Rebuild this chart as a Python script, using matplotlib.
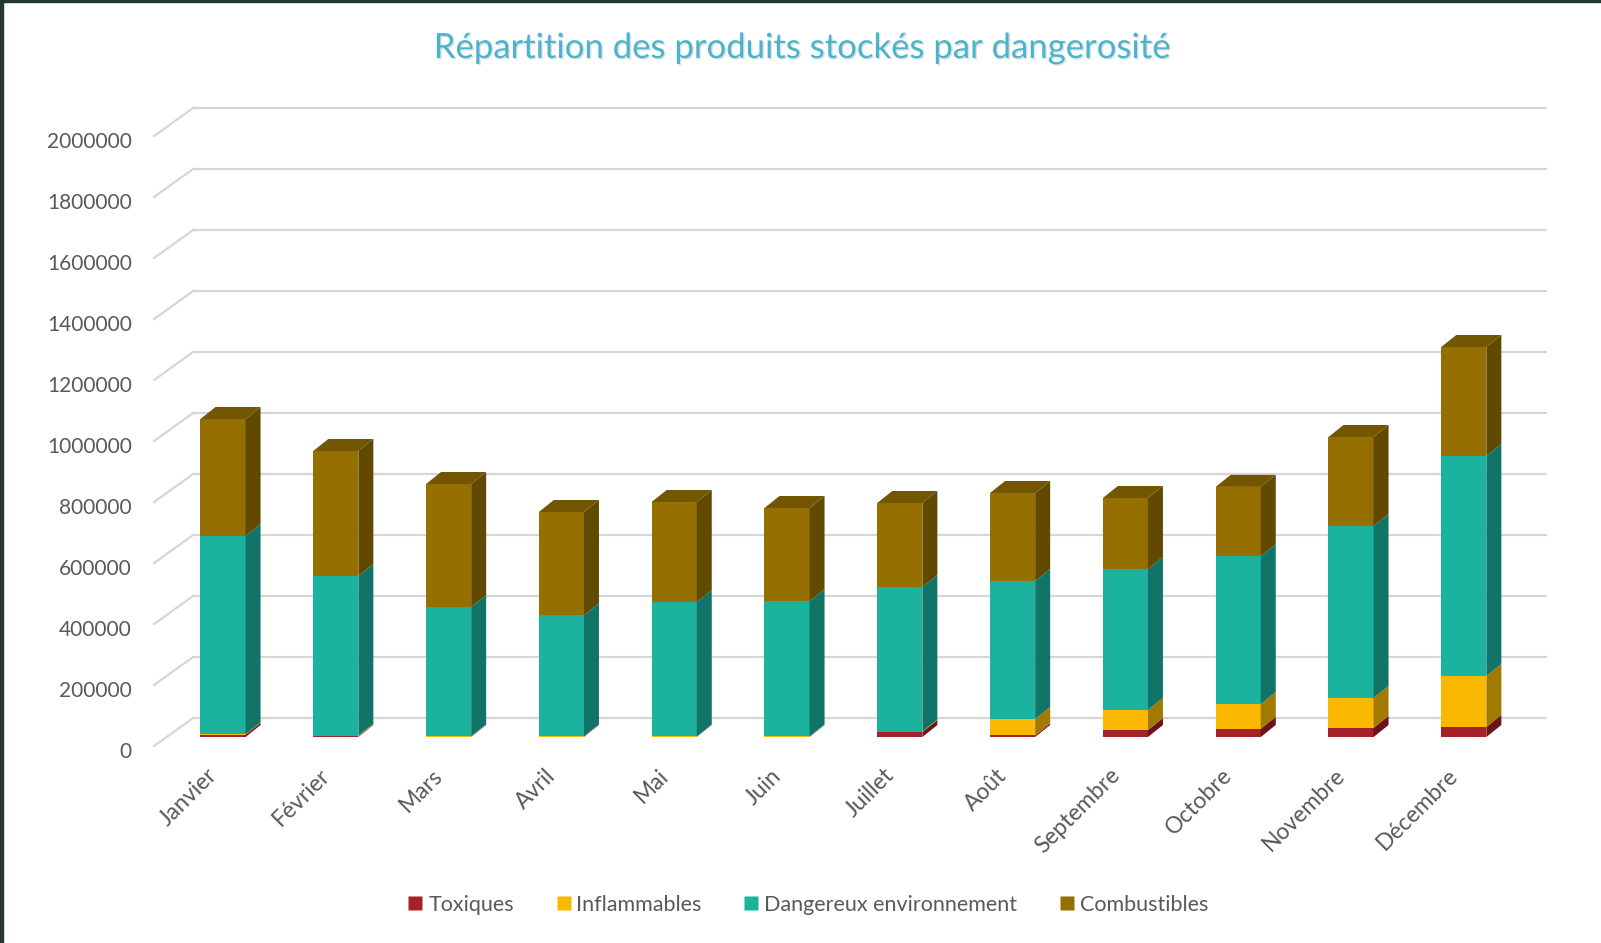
import matplotlib
matplotlib.use("Agg")
import matplotlib.pyplot as plt
from matplotlib.patches import Polygon, Rectangle
from matplotlib.lines import Line2D
import matplotlib.patheffects as pe

plt.rcParams['font.family'] = ['Lato', 'DejaVu Sans']

mois = ['Janvier', 'Février', 'Mars', 'Avril', 'Mai', 'Juin', 'Juillet', 'Août',
        'Septembre', 'Octobre', 'Novembre', 'Décembre']

toxiques = [7000, 2000, 1500, 1000, 1000, 1000, 16000, 5000, 23000, 27000, 30000, 33000]
inflammables = [2000, 2500, 1000, 1000, 1000, 1000, 2000, 54000, 65500, 81000, 98000, 167000]
dangereux_env = [650000, 523500, 423500, 397000, 440600, 444000, 473800, 452500, 462500,
                 485000, 564000, 721300]
combustibles = [383600, 409700, 403500, 338700, 327900, 304800, 275400, 288500, 232600,
                227000, 291600, 357400]

series = [
    ('Toxiques', toxiques, '#a5222a', '#6b1318', '#861a20'),
    ('Inflammables', inflammables, '#fab800', '#a37a00', '#c89400'),
    ('Dangereux environnement', dangereux_env, '#1bb39d', '#117467', '#158f7e'),
    ('Combustibles', combustibles, '#957000', '#614900', '#735700'),
]

y_ticks = list(range(0, 2000001, 200000))

# pixel scale of the figure (dpi 100)
W, H = 1601, 943
PX_X = 112.8            # px per category
PX_Y = 61 / 200000      # px per unit of value

fig = plt.figure(figsize=(W / 100, H / 100), dpi=100)
ax = fig.add_axes([166.6 / W, (H - 737) / H, 1353.6 / W, 610 / H])
ax.set_xlim(-0.5, 11.5)
ax.set_ylim(0, 2000000)
ax.axis('off')

# depth offsets (in data units)
back_dx, back_dy = 26.5 / PX_X, 19 / PX_Y
floor_dx, floor_dy = -12.5 / PX_X, -9 / PX_Y
bar_dx, bar_dy = 15 / PX_X, 12 / PX_Y
bw = 0.4

# back wall gridlines + perspective ticks
for v in y_ticks:
    ax.plot([-0.5 + back_dx, 11.5 + back_dx], [v + back_dy, v + back_dy],
            color='#d6d6d6', lw=1.6, clip_on=False, zorder=1, solid_capstyle='butt')
    ax.plot([-0.5 + floor_dx, -0.5 + back_dx], [v + floor_dy, v + back_dy],
            color='#d6d6d6', lw=1.6, clip_on=False, zorder=1)
    ax.annotate(str(v), (-0.5 + floor_dx, v + floor_dy), xytext=(-16, -4),
                textcoords='offset points', ha='right', va='center',
                fontsize=15, color='#595959', annotation_clip=False)

# 3D-looking stacked bars
for i in range(len(mois)):
    base = 0
    for name, vals, front, side, top in series:
        v = vals[i]
        y0, y1 = base, base + v
        ax.add_patch(Polygon([(i - bw / 2, y0), (i + bw / 2, y0), (i + bw / 2, y1), (i - bw / 2, y1)],
                             closed=True, facecolor=front, edgecolor='none', zorder=3, clip_on=False))
        ax.add_patch(Polygon([(i + bw / 2, y0), (i + bw / 2 + bar_dx, y0 + bar_dy),
                              (i + bw / 2 + bar_dx, y1 + bar_dy), (i + bw / 2, y1)],
                             closed=True, facecolor=side, edgecolor='none', zorder=3, clip_on=False))
        base = y1
    top_col = series[-1][4]
    ax.add_patch(Polygon([(i - bw / 2, base), (i + bw / 2, base), (i + bw / 2 + bar_dx, base + bar_dy),
                          (i - bw / 2 + bar_dx, base + bar_dy)],
                         closed=True, facecolor=top_col, edgecolor='none', zorder=3, clip_on=False))
    ax.annotate(mois[i], (i, 0), xytext=(-12, -20), textcoords='offset points',
                ha='right', va='top', rotation=45, rotation_mode='anchor',
                fontsize=16.5, color='#595959', annotation_clip=False)

# title
fig.text(803 / W, 1 - 48 / H, 'Répartition des produits stockés par dangerosité',
         ha='center', va='center', fontsize=25, color='#4ab4cd',
         path_effects=[pe.SimplePatchShadow(offset=(1, -1), alpha=0.15), pe.Normal()])

# legend
handles = [Line2D([], [], marker='s', linestyle='none', markersize=10,
                  markerfacecolor=s[2], markeredgecolor='none') for s in series]
fig.legend(handles, [s[0] for s in series], loc='center', ncol=4,
           bbox_to_anchor=(808 / W, 1 - 905 / H), frameon=False, fontsize=15.5,
           labelcolor='#595959', handlelength=0.7, handletextpad=0.25, columnspacing=1.95)

# dark frame on left and top edges
fig.add_artist(Rectangle((0, 0), 3 / W, 1, transform=fig.transFigure, color='#263631'))
fig.add_artist(Rectangle((0, 1 - 2 / H), 1, 2 / H, transform=fig.transFigure, color='#263631'))

fig.savefig('out.png', dpi=100)
